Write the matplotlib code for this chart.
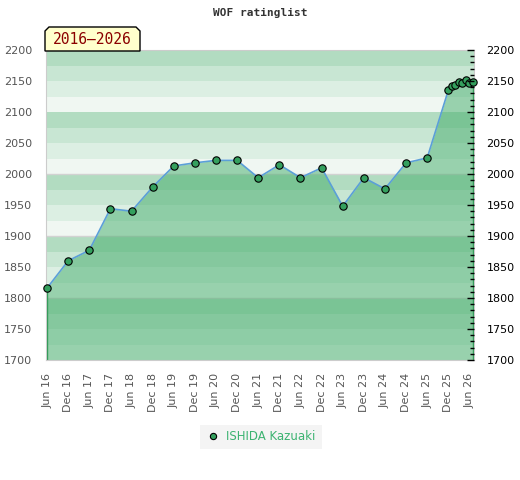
import matplotlib
matplotlib.use("Agg")
import matplotlib.pyplot as plt
from matplotlib.patches import Polygon
from matplotlib.lines import Line2D

# months counted from Jun 2016
months = [0, 6, 12, 18, 24, 30, 36, 42, 48, 54, 60, 66, 72, 78, 84, 90, 96,
          102, 108, 114, 115, 116, 117, 118, 119, 120, 121]
ratings = [1816, 1860, 1877, 1944, 1940, 1979, 2013, 2018, 2022, 2022, 1994,
           2015, 1994, 2010, 1948, 1994, 1976, 2018, 2026, 2135, 2142, 2143,
           2148, 2146, 2152, 2147, 2148]
tick_labels = ["Jun 16", "Dec 16", "Jun 17", "Dec 17", "Jun 18", "Dec 18",
               "Jun 19", "Dec 19", "Jun 20", "Dec 20", "Jun 21", "Dec 21",
               "Jun 22", "Dec 22", "Jun 23", "Dec 23", "Jun 24", "Dec 24",
               "Jun 25", "Dec 25", "Jun 26"]
player = "ISHIDA Kazuaki"
title = "WOF ratinglist"
period = "2016\u20132026"

band_colors = ["#b2dcc1", "#c8e6d3", "#dcefe3", "#f0f7f2"]
ymin, ymax = 1700, 2200
xmin, xmax = -0.3, 121.3

fig = plt.figure(figsize=(5.2, 4.8), dpi=100)
ax = fig.add_axes([46/520, 1-360/480, 428/520, 310/480])

# horizontal bands, 4 per hundred, darkest on top
for top in range(ymax, ymin, -25):
    idx = ((ymax - top) // 25) % 4
    ax.axhspan(top - 25, top, color=band_colors[idx], lw=0, zorder=0)
for h in (1800, 1900, 2000):
    ax.axhline(h, color="#d2d2d2", lw=1, zorder=0.5)

# area under the rating curve
ax.fill_between(months, ratings, ymin, color="#48ae6e", alpha=0.52, lw=0, zorder=1)
ax.vlines([months[0], months[-1]], ymin, [ratings[0], ratings[-1]],
          color="#2e9a55", lw=1, zorder=2)
ax.plot(months, ratings, color="#5b9fd8", lw=1.2, zorder=3)
ax.plot(months, ratings, ls="none", marker="o", ms=5.3, mfc="#34a05e",
        mec="black", mew=0.8, zorder=4, clip_on=False)

ax.set_xlim(xmin, xmax)
ax.set_ylim(ymin, ymax)
ax.set_xticks(range(0, 121, 6))
ax.set_xticklabels(tick_labels, rotation=90, fontsize=8, color="#555555")
ax.tick_params(axis="x", length=0, pad=9)
ax.set_yticks(range(ymin, ymax + 1, 50))
ax.tick_params(axis="y", length=0, labelsize=8, labelcolor="#555555", pad=10)
for s in ax.spines.values():
    s.set_color("#cccccc")

ax2 = ax.twinx()
ax2.set_ylim(ymin, ymax)
ax2.set_yticks(range(ymin, ymax + 1, 50))
ax2.set_yticks(range(ymin, ymax + 1, 10), minor=True)
ax2.tick_params(axis="y", which="major", direction="in", length=5, width=1,
                labelsize=8, labelcolor="black", pad=9)
ax2.tick_params(axis="y", which="minor", direction="in", length=3, width=1)
for s in ax2.spines.values():
    s.set_visible(False)

fig.text(0.5, 1-13/480, title, ha="center", va="center", fontsize=8,
         family="DejaVu Sans Mono", fontweight="bold", color="#333333")

# period label box with clipped top corners
W, H = 520, 480
px = [(45, 51), (45, 31), (49, 27), (136, 27), (140, 31), (140, 51)]
box = Polygon([(x/W, 1-y/H) for x, y in px], closed=True, transform=fig.transFigure,
              facecolor="#ffffcc", edgecolor="black", lw=1, zorder=10)
fig.patches.append(box)
fig.text(92.5/W, 1-40/H, period, ha="center", va="center", fontsize=10.5,
         family="DejaVu Sans Mono", color="#8b0000", zorder=11)

handle = Line2D([], [], ls="none", marker="o", ms=4.5, mfc="#34a05e", mec="black", mew=0.8)
leg = fig.legend([handle], [player], loc="center", bbox_to_anchor=(261/W, 1-437/H),
                 fontsize=8.5, frameon=True, fancybox=False, handletextpad=0.5,
                 borderpad=0.5, handlelength=1.2)
leg.get_frame().set_facecolor("#f2f2f2")
leg.get_frame().set_edgecolor("none")
for t in leg.get_texts():
    t.set_color("#3cb371")

fig.savefig("out.png", dpi=100)
